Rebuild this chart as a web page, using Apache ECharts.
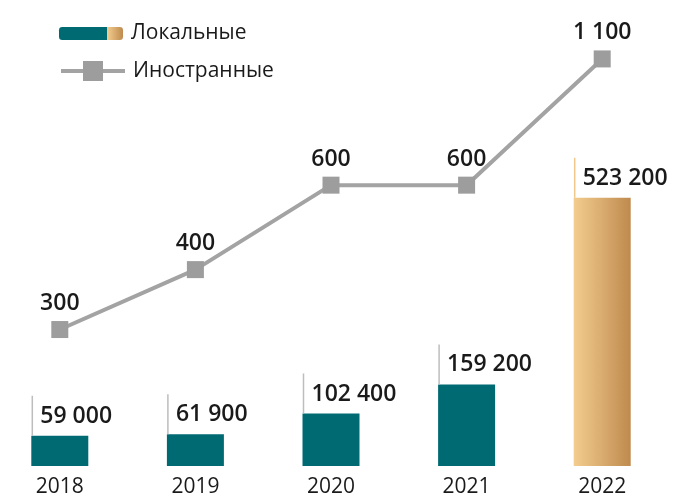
<!DOCTYPE html>
<html><head><meta charset="utf-8">
<script src="https://cdn.jsdelivr.net/npm/echarts@6/dist/echarts.min.js"></script>
<style>html,body{margin:0;padding:0;background:#fff;overflow:hidden}#c{width:681px;height:500px;margin-left:-8px}</style>
</head><body><div id="c"></div>
<script>
const years = ['2018', '2019', '2020', '2021', '2022'];
const localValues = [59000, 61900, 102400, 159200, 523200];
const foreignValues = [300, 400, 600, 600, 1100];
const seriesNames = ['Локальные', 'Иностранные'];

const TEAL = '#006a73';
const FONT = '"Open Sans", "Noto Sans", sans-serif';
const BAR_W = 57;
const fmt = v => String(v).replace(/\B(?=(\d{3})+(?!\d))/g, ' ');
const gold = () => new echarts.graphic.LinearGradient(0, 0, 1, 0, [
  {offset: 0, color: '#f3cd8f'}, {offset: 1, color: '#bf8a4e'}]);

const chart = echarts.init(document.getElementById('c'), null, {renderer: 'canvas'});
chart.setOption({
  animation: false,
  grid: {left: 0, right: 3, top: 20, bottom: 34, containLabel: false},
  legend: [
    {data: [{name: seriesNames[0], itemStyle: {color: new echarts.graphic.LinearGradient(0, 0, 1, 0, [
        {offset: 0, color: TEAL}, {offset: 0.75, color: TEAL},
        {offset: 0.75, color: '#f3cd8f'}, {offset: 1, color: '#bf8a4e'}])}}],
     left: 62, top: 18, itemWidth: 64, itemHeight: 13, selectedMode: false,
     textStyle: {fontFamily: FONT, fontSize: 21, color: '#1a1a1a', padding: [0, 0, 0, 3]}},
    {data: [{name: seriesNames[1], lineStyle: {width: 4, color: '#a3a3a3'}}],
     left: 62, top: 55.5, itemWidth: 64, itemHeight: 25, selectedMode: false,
     textStyle: {fontFamily: FONT, fontSize: 21, color: '#1a1a1a', padding: [0, 0, 0, 3]}}
  ],
  xAxis: {type: 'category', data: years,
    axisLine: {show: false}, axisTick: {show: false},
    axisLabel: {fontFamily: FONT, fontSize: 21, color: '#1a1a1a', margin: 11}},
  yAxis: [
    {type: 'value', min: 0, max: 870000, show: false},
    {type: 'log', min: 155.8, max: 1326, show: false}
  ],
  series: [
    {name: seriesNames[0], type: 'bar', barWidth: BAR_W, yAxisIndex: 0,
     itemStyle: {color: TEAL},
     data: localValues.map((v, i) => i === 4 ? {value: v, itemStyle: {color: gold()}} : v)},
    {type: 'custom', yAxisIndex: 0, z: 5, silent: true,
     data: localValues.map((v, i) => [i, v]),
     renderItem: (params, api) => {
       const i = api.value(0), v = api.value(1);
       const p = api.coord([i, v]);
       const x = p[0] - BAR_W / 2;
       const col = i === 4 ? '#f0c98a' : '#bdbdbd';
       return {type: 'group', children: [
         {type: 'line', shape: {x1: x + 1, y1: p[1], x2: x + 1, y2: p[1] - 40},
          style: {stroke: col, lineWidth: 1.5}},
         {type: 'text', style: {text: fmt(v), x: x + 9, y: p[1] - 8,
          align: 'left', verticalAlign: 'bottom',
          font: '600 23px ' + FONT, fill: '#1a1a1a'}}
       ]};
     }},
    {name: seriesNames[1], type: 'line', yAxisIndex: 1, data: foreignValues,
     symbol: 'rect', symbolSize: 17,
     lineStyle: {color: '#a3a3a3', width: 4},
     itemStyle: {color: '#9d9d9d'},
     label: {show: true, position: 'top', distance: 6, formatter: p => fmt(p.value),
       fontFamily: FONT, fontSize: 23, fontWeight: 600, color: '#1a1a1a'}}
  ]
});
</script></body></html>
